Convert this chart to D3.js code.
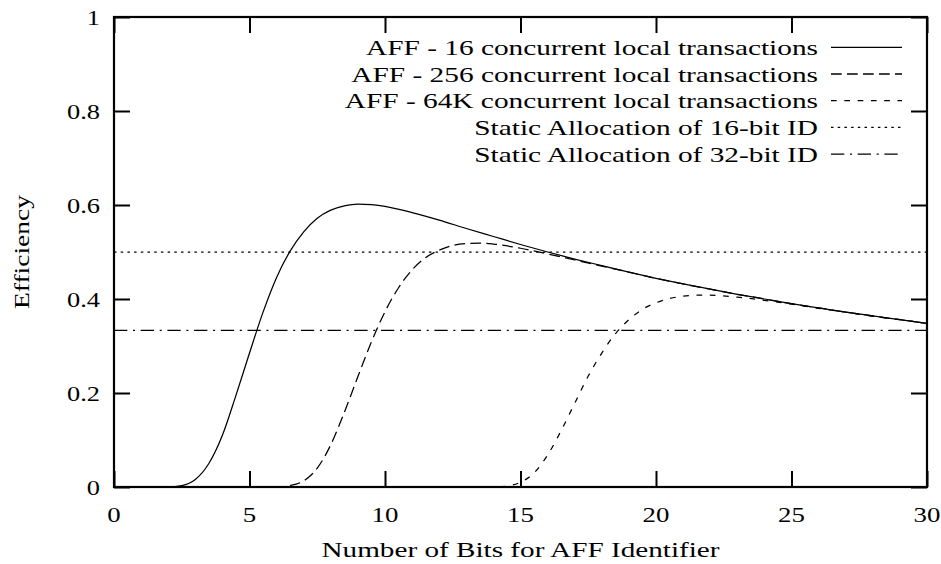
<!DOCTYPE html>
<html>
<head>
<meta charset="utf-8">
<script src="https://cdn.jsdelivr.net/npm/d3@7"></script>
<style>
  html, body { margin: 0; padding: 0; background: #fff; }
</style>
</head>
<body>
<svg id="chart" width="941" height="564"></svg>
<script>
// ---------- data ----------
const bits16 = [0,1,2,2.5,3,3.5,4,4.5,5,5.5,6,6.5,7,7.5,8,8.5,9,9.5,10,11,12,13,14,15,16,17,18,19,20,21,22,23,24,25,26,27,28,29,30];
const eff16  = [0,0,0,0.003,0.016,0.05,0.11,0.195,0.285,0.372,0.446,0.502,0.543,0.572,0.589,0.598,0.602,0.601,0.597,0.584,0.568,0.550,0.533,0.516,0.500,0.485,0.471,0.457,0.444,0.432,0.421,0.410,0.400,0.390,0.381,0.372,0.364,0.356,0.348];

const bits256 = [0,2,4,6,6.5,7,7.5,8,8.5,9,9.5,10,10.5,11,11.5,12,12.5,13,13.5,14,15,16,17,18,19,20,21,22,23,24,25,26,27,28,29,30];
const eff256  = [0,0,0,0,0.003,0.013,0.04,0.09,0.159,0.235,0.309,0.373,0.424,0.462,0.488,0.504,0.514,0.518,0.519,0.517,0.508,0.496,0.483,0.470,0.457,0.444,0.432,0.421,0.410,0.400,0.390,0.381,0.372,0.364,0.356,0.348];

const bits64k = [0,5,10,14,14.5,15,15.5,16,16.5,17,17.5,18,18.5,19,19.5,20,20.5,21,21.5,22,23,24,25,26,27,28,29,30];
const eff64k  = [0,0,0,0,0.002,0.01,0.03,0.068,0.12,0.178,0.236,0.285,0.326,0.356,0.378,0.392,0.401,0.406,0.408,0.408,0.404,0.397,0.389,0.380,0.372,0.363,0.356,0.348];

const static16 = 0.5;      // 16 / (16 + 16)
const static32 = 0.3333;   // 16 / (16 + 32)

const seriesNames = [
  "AFF - 16 concurrent local transactions",
  "AFF - 256 concurrent local transactions",
  "AFF - 64K concurrent local transactions",
  "Static Allocation of 16-bit ID",
  "Static Allocation of 32-bit ID"
];
const xTicks = [0,5,10,15,20,25,30];
const yTicks = [0,0.2,0.4,0.6,0.8,1];
const xTitle = "Number of Bits for AFF Identifier";
const yTitle = "Efficiency";

// ---------- layout ----------
const W = 941, H = 564;
const m = {left: 114, top: 17, right: 14, bottom: 77};
const FONT = "Liberation Serif";
const FS = 22;
const svg = d3.select("#chart");
const x = d3.scaleLinear().domain([0,30]).range([m.left, W - m.right]);
const y = d3.scaleLinear().domain([0,1]).range([H - m.bottom, m.top]);

const dashes = ["none", "10.7,5.3", "5.7,7.6", "2.5,4.2", "13.3,5.7,2,5.7"];

const series = [
  {xs: bits16,  ys: eff16},
  {xs: bits256, ys: eff256},
  {xs: bits64k, ys: eff64k},
  {xs: [0,30],  ys: [static16, static16]},
  {xs: [0,30],  ys: [static32, static32]}
];

// stretched serif text (Computer Modern is wider than Times), anchored manually
function wideText(parent, str, ax, ay, anchor, stretch, target) {
  const t = parent.append("text")
    .attr("font-family", FONT).attr("font-size", FS).attr("fill", "#000")
    .attr("x", 0).attr("y", ay).text(str);
  const w0 = t.node().getComputedTextLength();
  const w = target || w0 * stretch;
  t.attr("textLength", w).attr("lengthAdjust", "spacingAndGlyphs");
  const x0 = anchor === "end" ? ax - w : anchor === "middle" ? ax - w/2 : ax;
  t.attr("x", x0);
  return t;
}

const line = d3.line().x(d => x(d[0])).y(d => y(d[1])).curve(d3.curveMonotoneX);

svg.append("defs").append("clipPath").attr("id","clip")
  .append("rect").attr("x", m.left).attr("y", m.top)
  .attr("width", x(30)-m.left).attr("height", y(0)-m.top);

const plot = svg.append("g").attr("clip-path","url(#clip)");
series.forEach((s,i) => {
  plot.append("path")
    .datum(s.xs.map((v,k) => [v, s.ys[k]]))
    .attr("d", line)
    .attr("fill","none")
    .attr("stroke","#000")
    .attr("stroke-width", 1.25)
    .attr("stroke-dasharray", dashes[i]);
});

// ---------- axes (gnuplot style, mirrored inward ticks) ----------
const tickLen = 16;
const gB = svg.append("g").attr("transform", `translate(0,${y(0)})`)
  .call(d3.axisBottom(x).tickValues(xTicks).tickSizeInner(-tickLen).tickSizeOuter(0).tickFormat(""));
const gT = svg.append("g").attr("transform", `translate(0,${y(1)})`)
  .call(d3.axisTop(x).tickValues(xTicks).tickSizeInner(-tickLen).tickSizeOuter(0).tickFormat(""));
const gL = svg.append("g").attr("transform", `translate(${x(0)},0)`)
  .call(d3.axisLeft(y).tickValues(yTicks).tickSizeInner(-tickLen).tickSizeOuter(0).tickFormat(""));
const gR = svg.append("g").attr("transform", `translate(${x(30)},0)`)
  .call(d3.axisRight(y).tickValues(yTicks).tickSizeInner(-tickLen).tickSizeOuter(0).tickFormat(""));

[gB,gT,gL,gR].forEach(g => {
  g.select(".domain").remove();
  g.selectAll(".tick text").remove();
  g.selectAll(".tick line").attr("stroke","#000").attr("stroke-width",2);
});

// tick labels
const fmtY = d => (d === 0 || d === 1) ? d3.format("d")(d) : d3.format(".1f")(d);
const labels = svg.append("g");
xTicks.forEach(v => wideText(labels, d3.format("d")(v), x(v), y(0) + 35, "middle", 1.22));
yTicks.forEach(v => wideText(labels, fmtY(v), x(0) - 14, y(v) + 7.7, "end", 1.2));

svg.append("rect")
  .attr("x", x(0)).attr("y", y(1))
  .attr("width", x(30)-x(0)).attr("height", y(0)-y(1))
  .attr("fill","none").attr("stroke","#000").attr("stroke-width",2.2);

// axis titles
wideText(svg, xTitle, (x(0)+x(30))/2, 557, "middle", 1.3, 398);
const yg = svg.append("g").attr("transform", `translate(29,${(y(0)+y(1))/2}) rotate(-90)`);
wideText(yg, yTitle, 0, 0, "middle", 1.25);

// ---------- legend ----------
const legX = 818, legY0 = 47.3, legDy = 26.7, sx0 = 831, sx1 = 902;
seriesNames.forEach((name,i) => {
  const yy = legY0 + i*legDy;
  wideText(svg, name, legX, yy + 7.5, "end", 1.333);
  svg.append("line").attr("x1", sx0).attr("x2", sx1).attr("y1", yy).attr("y2", yy)
    .attr("stroke","#000").attr("stroke-width",1.3).attr("stroke-dasharray", dashes[i]);
});
</script>
</body>
</html>
